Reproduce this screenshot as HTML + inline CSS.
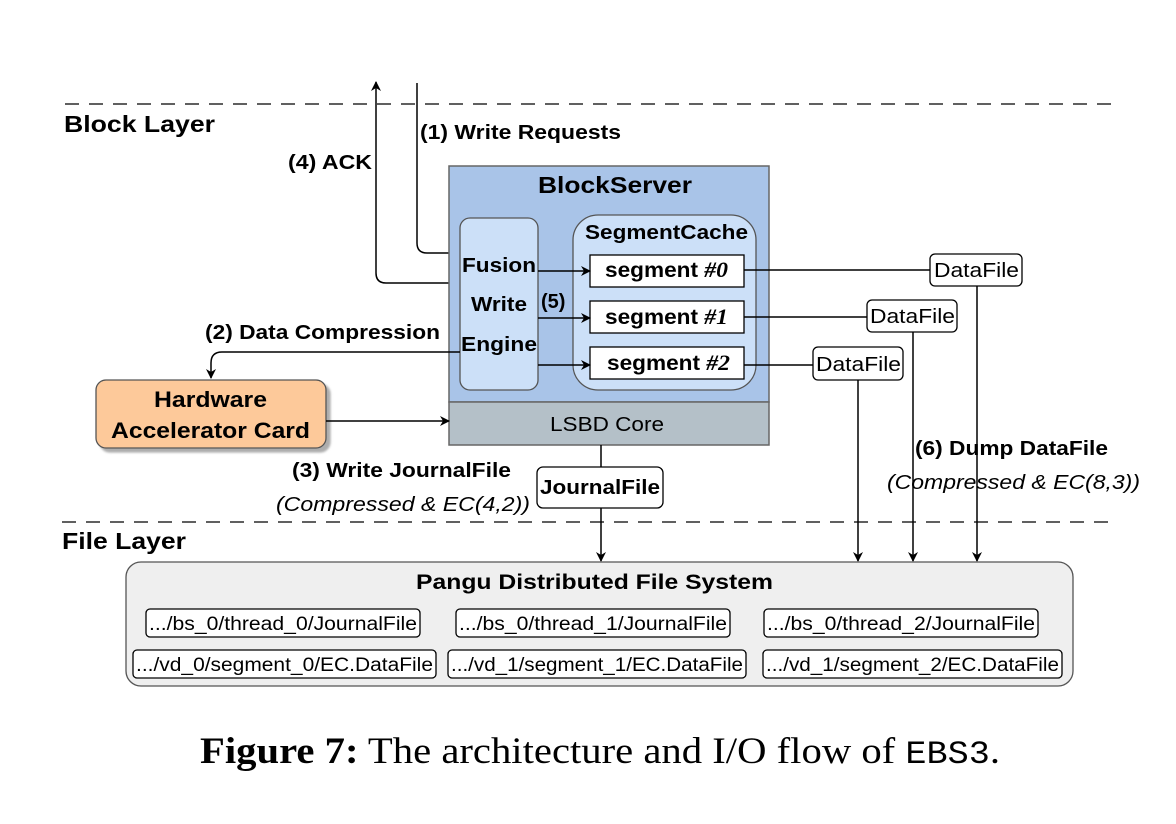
<!DOCTYPE html>
<html><head><meta charset="utf-8"><style>
html,body{margin:0;padding:0;background:#fff;}
svg{display:block;}
.b{font-family:"Liberation Sans",Arial,sans-serif;font-weight:bold;fill:#000;}
.n{font-family:"Liberation Sans",Arial,sans-serif;fill:#000;}
.i{font-family:"Liberation Sans",Arial,sans-serif;font-style:italic;fill:#000;}
.s{font-family:"Liberation Serif",serif;font-style:italic;font-weight:bold;}
</style></head><body>
<svg width="1176" height="824" viewBox="0 0 1176 824" xmlns="http://www.w3.org/2000/svg">
<defs>
<marker id="a" markerWidth="10" markerHeight="10" refX="9" refY="5" orient="auto" markerUnits="userSpaceOnUse">
<path d="M0,0 L10,5 L0,10 L3,5 Z" fill="#000"/></marker>
<filter id="sh"><feDropShadow dx="4" dy="4" stdDeviation="1" flood-color="#999" flood-opacity="0.8"/></filter>
</defs>
<line x1="65" y1="104" x2="1116" y2="104" stroke="#000" stroke-width="1.3" stroke-dasharray="14,10"/>
<line x1="62" y1="522" x2="1116" y2="522" stroke="#000" stroke-width="1.3" stroke-dasharray="14,10"/>
<text x="64" y="132" class="b" font-size="23" textLength="151" lengthAdjust="spacingAndGlyphs">Block Layer</text>
<text x="62" y="549" class="b" font-size="23" textLength="124" lengthAdjust="spacingAndGlyphs">File Layer</text>

<path d="M460,283 H386 Q376,283 376,273 V82" fill="none" stroke="#000" stroke-width="1.5" marker-end="url(#a)"/>
<path d="M417,83 V243 Q417,253 427,253 H460" fill="none" stroke="#000" stroke-width="1.5" marker-end="url(#a)"/>
<text x="288" y="169" class="b" font-size="20" textLength="84" lengthAdjust="spacingAndGlyphs">(4) ACK</text>
<text x="420" y="139" class="b" font-size="20" textLength="201" lengthAdjust="spacingAndGlyphs">(1) Write Requests</text>

<rect x="449" y="166" width="320" height="236" fill="#a9c4e8" stroke="#666" stroke-width="1.5"/>
<rect x="449" y="402" width="320" height="43" fill="#b4c0c8" stroke="#666" stroke-width="1.5"/>
<text x="550" y="431" class="n" font-size="20" textLength="114" lengthAdjust="spacingAndGlyphs">LSBD Core</text>
<text x="538" y="193" class="b" font-size="23" textLength="154" lengthAdjust="spacingAndGlyphs">BlockServer</text>
<rect x="460" y="218" width="78" height="172" rx="10" fill="#cce0f8" stroke="#555" stroke-width="1.3"/>
<text x="462" y="272" class="b" font-size="20" textLength="74" lengthAdjust="spacingAndGlyphs">Fusion</text>
<text x="471" y="311" class="b" font-size="20" textLength="56" lengthAdjust="spacingAndGlyphs">Write</text>
<text x="461" y="351" class="b" font-size="20" textLength="76" lengthAdjust="spacingAndGlyphs">Engine</text>
<rect x="573" y="215" width="183" height="175" rx="25" fill="#cce0f8" stroke="#555" stroke-width="1.3"/>
<text x="585" y="239" class="b" font-size="20" textLength="163" lengthAdjust="spacingAndGlyphs">SegmentCache</text>
<rect x="590" y="255" width="154" height="32" fill="#fff" stroke="#000" stroke-width="1.3"/>
<rect x="590" y="301" width="154" height="32" fill="#fff" stroke="#000" stroke-width="1.3"/>
<rect x="590" y="347" width="154" height="32" fill="#fff" stroke="#000" stroke-width="1.3"/>
<text x="605" y="277" class="b" font-size="21" textLength="123" lengthAdjust="spacingAndGlyphs">segment <tspan class="s" font-size="22">#0</tspan></text>
<text x="605" y="324" class="b" font-size="21" textLength="123" lengthAdjust="spacingAndGlyphs">segment <tspan class="s" font-size="22">#1</tspan></text>
<text x="607" y="370" class="b" font-size="21" textLength="123" lengthAdjust="spacingAndGlyphs">segment <tspan class="s" font-size="22">#2</tspan></text>
<line x1="538" y1="271" x2="590" y2="271" stroke="#000" stroke-width="1.5" marker-end="url(#a)"/>
<line x1="538" y1="318" x2="590" y2="318" stroke="#000" stroke-width="1.5" marker-end="url(#a)"/>
<line x1="538" y1="365" x2="590" y2="365" stroke="#000" stroke-width="1.5" marker-end="url(#a)"/>
<text x="541" y="308" class="b" font-size="20">(5)</text>

<line x1="744" y1="270" x2="930" y2="270" stroke="#000" stroke-width="1.5"/>
<line x1="744" y1="317" x2="867" y2="317" stroke="#000" stroke-width="1.5"/>
<line x1="744" y1="365" x2="813" y2="365" stroke="#000" stroke-width="1.5"/>
<rect x="930" y="254" width="92" height="32" rx="5" fill="#fff" stroke="#000" stroke-width="1.3"/>
<rect x="867" y="300" width="90" height="32" rx="5" fill="#fff" stroke="#000" stroke-width="1.3"/>
<rect x="813" y="347" width="90" height="33" rx="5" fill="#fff" stroke="#000" stroke-width="1.3"/>
<text x="934" y="277" class="n" font-size="20" textLength="85" lengthAdjust="spacingAndGlyphs">DataFile</text>
<text x="870" y="323" class="n" font-size="20" textLength="85" lengthAdjust="spacingAndGlyphs">DataFile</text>
<text x="816" y="371" class="n" font-size="20" textLength="85" lengthAdjust="spacingAndGlyphs">DataFile</text>
<line x1="977" y1="286" x2="977" y2="561" stroke="#000" stroke-width="1.5" marker-end="url(#a)"/>
<line x1="913" y1="332" x2="913" y2="561" stroke="#000" stroke-width="1.5" marker-end="url(#a)"/>
<line x1="858" y1="380" x2="858" y2="561" stroke="#000" stroke-width="1.5" marker-end="url(#a)"/>
<text x="915" y="455" class="b" font-size="20" textLength="193" lengthAdjust="spacingAndGlyphs">(6) Dump DataFile</text>
<text x="887" y="489" class="i" font-size="20" textLength="253" lengthAdjust="spacingAndGlyphs">(Compressed &amp; EC(8,3))</text>

<path d="M460,352 H222 Q211,352 211,363 V378" fill="none" stroke="#000" stroke-width="1.5" marker-end="url(#a)"/>
<text x="205" y="339" class="b" font-size="20" textLength="235" lengthAdjust="spacingAndGlyphs">(2) Data Compression</text>
<rect x="96" y="380" width="230" height="68" rx="10" fill="#fdc99a" stroke="#555" stroke-width="1.3" filter="url(#sh)"/>
<text x="154" y="407" class="b" font-size="22" textLength="113" lengthAdjust="spacingAndGlyphs">Hardware</text>
<text x="111" y="438" class="b" font-size="22" textLength="199" lengthAdjust="spacingAndGlyphs">Accelerator Card</text>
<line x1="326" y1="421" x2="449" y2="421" stroke="#000" stroke-width="1.5" marker-end="url(#a)"/>

<line x1="601" y1="445" x2="601" y2="561" stroke="#000" stroke-width="1.5" marker-end="url(#a)"/>
<rect x="537" y="467" width="126" height="41" rx="6" fill="#fff" stroke="#000" stroke-width="1.3"/>
<text x="540" y="494" class="b" font-size="20" textLength="120" lengthAdjust="spacingAndGlyphs">JournalFile</text>
<text x="292" y="477" class="b" font-size="20" textLength="219" lengthAdjust="spacingAndGlyphs">(3) Write JournalFile</text>
<text x="276" y="511" class="i" font-size="20" textLength="254" lengthAdjust="spacingAndGlyphs">(Compressed &amp; EC(4,2))</text>

<rect x="126" y="562" width="947" height="124" rx="15" fill="#efefef" stroke="#555" stroke-width="1.3"/>
<text x="416" y="589" class="b" font-size="21" textLength="357" lengthAdjust="spacingAndGlyphs">Pangu Distributed File System</text>
<g fill="#fff" stroke="#000" stroke-width="1.3">
<rect x="146" y="609" width="274" height="28" rx="4"/>
<rect x="456" y="609" width="274" height="28" rx="4"/>
<rect x="764" y="609" width="274" height="28" rx="4"/>
<rect x="133" y="650" width="303" height="28" rx="4"/>
<rect x="448" y="650" width="298" height="28" rx="4"/>
<rect x="763" y="650" width="299" height="28" rx="4"/>
</g>
<g class="n" font-size="19">
<text x="149" y="630" textLength="268" lengthAdjust="spacingAndGlyphs">.../bs_0/thread_0/JournalFile</text>
<text x="459" y="630" textLength="268" lengthAdjust="spacingAndGlyphs">.../bs_0/thread_1/JournalFile</text>
<text x="767" y="630" textLength="268" lengthAdjust="spacingAndGlyphs">.../bs_0/thread_2/JournalFile</text>
<text x="136" y="671" textLength="297" lengthAdjust="spacingAndGlyphs">.../vd_0/segment_0/EC.DataFile</text>
<text x="451" y="671" textLength="292" lengthAdjust="spacingAndGlyphs">.../vd_1/segment_1/EC.DataFile</text>
<text x="766" y="671" textLength="293" lengthAdjust="spacingAndGlyphs">.../vd_1/segment_2/EC.DataFile</text>
</g>

<text x="200" y="763" font-family="Liberation Serif,serif" font-size="37" fill="#000" textLength="800" lengthAdjust="spacingAndGlyphs"><tspan font-weight="bold">Figure 7:</tspan> The architecture and I/O flow of <tspan font-family="Liberation Mono,monospace" font-size="32">EBS3</tspan>.</text>
</svg>
</body></html>
